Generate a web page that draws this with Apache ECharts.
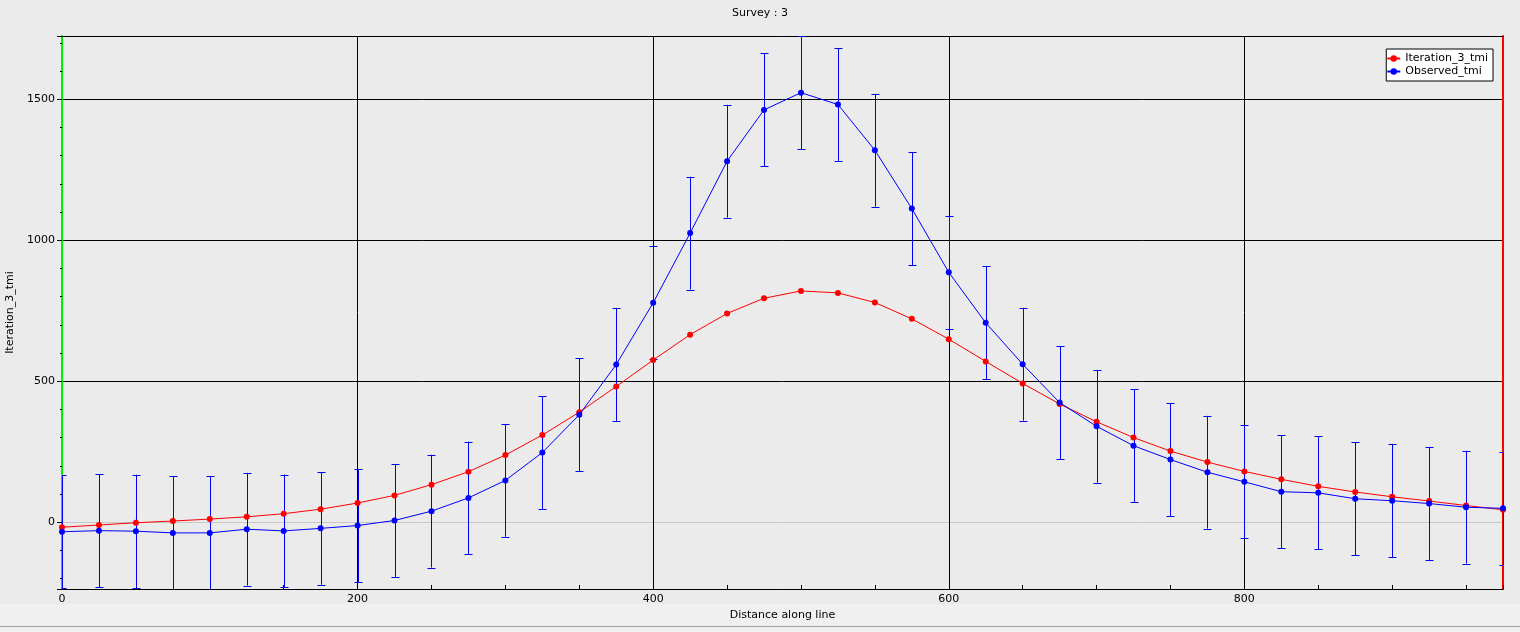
<!DOCTYPE html>
<html>
<head>
<meta charset="utf-8">
<script src="https://cdn.jsdelivr.net/npm/echarts@6/dist/echarts.min.js"></script>
<style>
html,body{margin:0;padding:0;background:#ebebeb;}
#chart{width:1520px;height:632px;}
</style>
</head>
<body>
<div id="chart"></div>
<script>
// ---- data ----
const chartTitle = 'Survey : 3';
const xAxisName = 'Distance along line';
const yAxisName = 'Iteration_3_tmi';
const seriesNames = ['Iteration_3_tmi', 'Observed_tmi'];

const distance = [0, 25, 50, 75, 100, 125, 150, 175, 200, 225, 250, 275, 300, 325, 350, 375, 400, 425, 450, 475,
                  500, 525, 550, 575, 600, 625, 650, 675, 700, 725, 750, 775, 800, 825, 850, 875, 900, 925, 950, 975];

const iteration3 = [-18, -10, -2, 4, 11, 19, 30, 46, 68, 95, 133, 179, 238, 309, 390, 481, 575, 665, 740, 794,
                    820, 813, 779, 721, 649, 570, 492, 419, 356, 300, 252, 213, 180, 152, 127, 107, 90, 75, 59, 44];

const observed = [-34, -30, -32, -38, -38, -25, -31, -22, -12, 6, 39, 86, 148, 247, 381, 559, 778, 1025, 1280, 1462,
                  1523, 1481, 1319, 1112, 886, 707, 560, 424, 340, 271, 222, 177, 143, 108, 104, 83, 76, 66, 53, 49];

const observedError = [200, 200, 200, 200, 200, 200, 200, 200, 200, 200, 200, 200, 200, 200, 200, 200, 200, 200, 200, 200,
                       200, 200, 200, 200, 200, 200, 200, 200, 200, 200, 200, 200, 200, 200, 200, 200, 200, 200, 200, 200];

const xMin = 0, xMax = 975, xInterval = 200;
const yMin = -237, yMax = 1724;

// ---- build chart ----
const FONT = 'DejaVu Sans';
const redData = distance.map((d, i) => [d, iteration3[i]]);
const blueData = distance.map((d, i) => [d, observed[i]]);
const errData = distance.map((d, i) => [d, observed[i] - observedError[i], observed[i] + observedError[i]]);

const chart = echarts.init(document.getElementById('chart'), null, {renderer: 'canvas'});
const plainNumber = v => String(v);

const option = {
  animation: false,
  backgroundColor: '#ebebeb',
  textStyle: {fontFamily: FONT},
  title: {
    text: chartTitle, left: 'center', top: 3,
    textStyle: {fontFamily: FONT, fontSize: 11, fontWeight: 'normal', color: '#000'}
  },
  legend: {
    data: seriesNames,
    orient: 'vertical',
    right: 27, top: 49,
    itemGap: 2,
    itemWidth: 13, itemHeight: 8,
    padding: [4, 5, 4, 0],
    backgroundColor: '#ffffff',
    borderColor: '#000000', borderWidth: 1, borderRadius: 0,
    textStyle: {fontFamily: FONT, fontSize: 11, color: '#000'},
    selectedMode: false
  },
  grid: {left: 62, right: 17, top: 36, bottom: 43, containLabel: false, outerBoundsMode: 'none'},
  graphic: [
    {type: 'rect', z: -10, silent: true, shape: {x: 0, y: 604, width: 1520, height: 28}, style: {fill: '#f0f0f0'}},
    {type: 'line', z: -9, silent: true, shape: {x1: 0, y1: 626.5, x2: 1520, y2: 626.5}, style: {stroke: '#a0a0a0', lineWidth: 1}}
  ],
  xAxis: [{
    type: 'value', position: 'bottom',
    min: xMin, max: xMax, interval: xInterval,
    name: xAxisName, nameLocation: 'middle', nameGap: 19,
    nameTextStyle: {fontFamily: FONT, fontSize: 11, color: '#000'},
    axisLine: {show: true, onZero: false, lineStyle: {color: '#000', width: 1}},
    axisTick: {show: true, inside: true, length: 4, lineStyle: {color: '#000'}},
    minorTick: {show: true, splitNumber: 4, length: 4, lineStyle: {color: '#000'}},
    axisLabel: {show: true, margin: 5, fontFamily: FONT, fontSize: 11, color: '#000', showMaxLabel: false, formatter: plainNumber},
    splitLine: {show: true, lineStyle: {color: '#000', width: 1}}
  }, {
    type: 'value', position: 'top',
    min: xMin, max: xMax,
    axisLine: {show: true, onZero: false, lineStyle: {color: '#000', width: 1}},
    axisTick: {show: false}, axisLabel: {show: false}, splitLine: {show: false}
  }],
  yAxis: [{
    type: 'value', position: 'left',
    min: yMin, max: yMax, splitNumber: 4,
    name: yAxisName, nameLocation: 'middle', nameGap: 40,
    nameTextStyle: {fontFamily: FONT, fontSize: 11, color: '#000'},
    axisLine: {show: true, onZero: false, lineStyle: {color: '#00ee00', width: 2}},
    axisTick: {show: true, inside: false, length: 5, lineStyle: {color: '#000'}},
    minorTick: {show: true, splitNumber: 5, length: 2, lineStyle: {color: '#000'}},
    axisLabel: {show: true, margin: 7, fontFamily: FONT, fontSize: 11, color: '#000', showMinLabel: false, showMaxLabel: false, formatter: plainNumber},
    splitLine: {show: true, lineStyle: {color: ['#000', '#c8c8c8', '#000', '#000', '#000', '#000'], width: 1}}
  }, {
    type: 'value', position: 'right',
    min: yMin, max: yMax,
    axisLine: {show: true, onZero: false, lineStyle: {color: '#ff0000', width: 2}},
    axisTick: {show: false}, axisLabel: {show: false}, splitLine: {show: false}
  }],
  series: [
    {
      type: 'custom', name: 'errorbars', silent: true, z: 2,
      xAxisIndex: 0, yAxisIndex: 0,
      data: errData,
      encode: {x: 0, y: [1, 2]},
      renderItem: function (params, api) {
        const cs = params.coordSys;
        const xv = api.value(0);
        const lo = api.coord([xv, api.value(1)]);
        const hi = api.coord([xv, api.value(2)]);
        const top = cs.y, bot = cs.y + cs.height, left = cs.x, right = cs.x + cs.width;
        const px = Math.round(lo[0]) + 0.5;
        const y1 = Math.max(hi[1], top), y2 = Math.min(lo[1], bot);
        const st = {stroke: '#0000ff', lineWidth: 1};
        const children = [{type: 'line', shape: {x1: px, y1: y1, x2: px, y2: y2}, style: st}];
        const capW = 4;
        const cx1 = Math.max(px - capW, left), cx2 = Math.min(px + capW, right);
        if (hi[1] >= top) {
          const cy = Math.round(hi[1]) + 0.5;
          children.push({type: 'line', shape: {x1: cx1, y1: cy, x2: cx2, y2: cy}, style: st});
        }
        if (lo[1] <= bot) {
          const cy = Math.round(lo[1]) + 0.5;
          children.push({type: 'line', shape: {x1: cx1, y1: cy, x2: cx2, y2: cy}, style: st});
        }
        return {type: 'group', children: children};
      }
    },
    {
      type: 'line', name: seriesNames[0], data: redData, z: 3,
      symbol: 'circle', symbolSize: 6, showAllSymbol: true,
      lineStyle: {color: '#ff0000', width: 1},
      itemStyle: {color: '#ff0000'},
      emphasis: {disabled: true}
    },
    {
      type: 'line', name: seriesNames[1], data: blueData, z: 4,
      symbol: 'circle', symbolSize: 6, showAllSymbol: true,
      lineStyle: {color: '#0000ff', width: 1},
      itemStyle: {color: '#0000ff'},
      emphasis: {disabled: true}
    }
  ]
};
chart.setOption(option);
</script>
</body>
</html>
